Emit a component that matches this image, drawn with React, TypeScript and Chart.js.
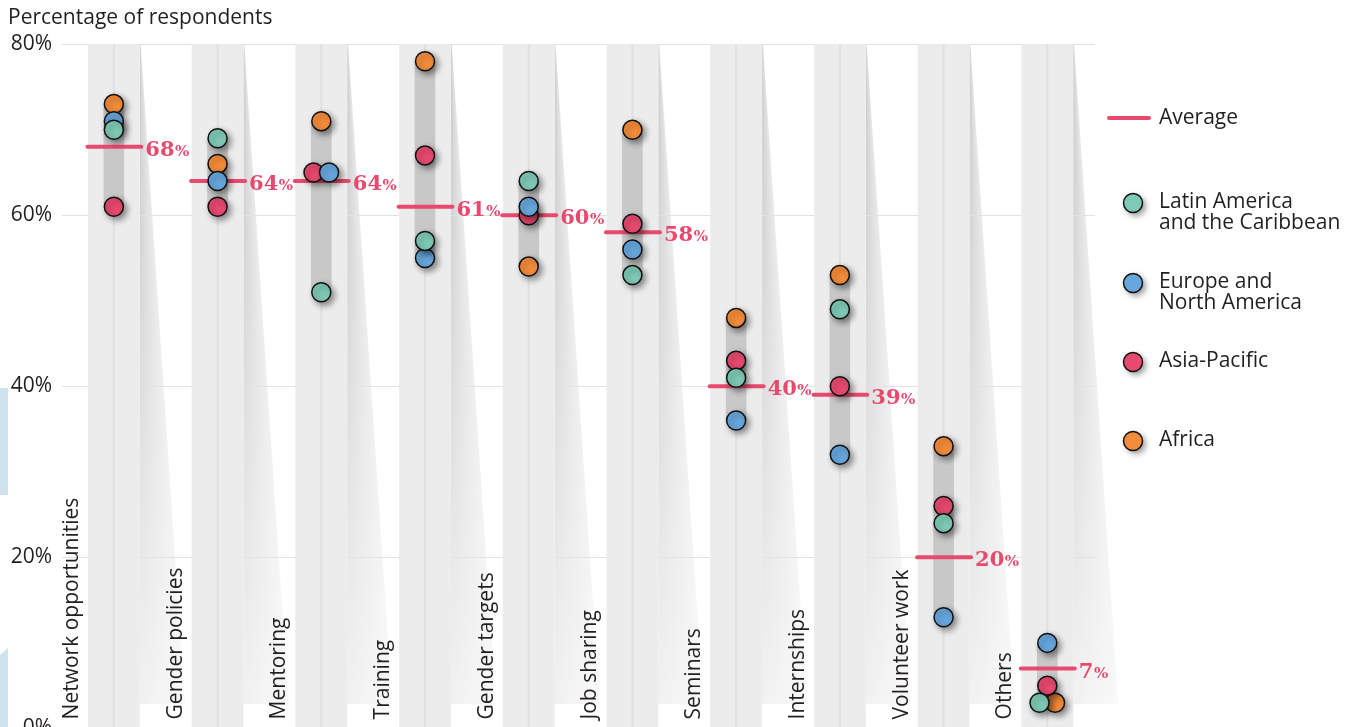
import React, { useEffect, useRef } from "react";
import { Chart, registerables } from "chart.js";

Chart.register(...registerables);

// ---------- DATA ----------
const categories = [
  "Network opportunities",
  "Gender policies",
  "Mentoring",
  "Training",
  "Gender targets",
  "Job sharing",
  "Seminars",
  "Internships",
  "Volunteer work",
  "Others",
];
const latinAmerica = [70, 69, 51, 57, 64, 53, 41, 49, 24, 3];
const europeNorthAmerica = [71, 64, 65, 55, 61, 56, 36, 32, 13, 10];
const asiaPacific = [61, 61, 65, 67, 60, 59, 43, 40, 26, 5];
const africa = [73, 66, 71, 78, 54, 70, 48, 53, 33, 3];
const average = [68, 64, 64, 61, 60, 58, 40, 39, 20, 7];
const yTicks = [0, 20, 40, 60, 80];
const yTitle = "Percentage of respondents";
const averageLabel = "Average";

// ---------- STYLE ----------
const FONT = "'Open Sans', 'Noto Sans', sans-serif";
const SLAB = "'DejaVu Serif', serif";
const TEXT = "#231f20";
const PINK = "#e84a6f";
const FS = 21;

const series = [
  { key: "latin", label: ["Latin America", "and the Caribbean"], data: latinAmerica, color: "#7ecab6", dodge: 2 },
  { key: "europe", label: ["Europe and", "North America"], data: europeNorthAmerica, color: "#67a7dd", dodge: 1 },
  { key: "asia", label: ["Asia-Pacific"], data: asiaPacific, color: "#e84a6f", dodge: 0 },
  { key: "africa", label: ["Africa"], data: africa, color: "#f58c3a", dodge: 3 },
];

const DODGE = 0.075;

function offsetFor(si: number, i: number): number {
  const v = series[si].data[i];
  const same = series
    .map((s, k) => ({ k, v: s.data[i], d: s.dodge }))
    .filter((o) => o.v === v)
    .sort((a, b) => a.d - b.d);
  if (same.length < 2) return 0;
  const pos = same.findIndex((o) => o.k === si);
  return (pos - (same.length - 1) / 2) * 2 * DODGE;
}

const rangeData = categories.map((_, i) => {
  const vals = series.map((s) => s.data[i]);
  return { x: i, y: [Math.min(...vals), Math.max(...vals)] };
});

const RANGE_INDEX = series.length;

function setShadow(ctx: CanvasRenderingContext2D) {
  ctx.shadowColor = "rgba(0,0,0,0.45)";
  ctx.shadowBlur = 6;
  ctx.shadowOffsetX = 3;
  ctx.shadowOffsetY = 3;
}

const decorPlugin = {
  id: "decor",
  beforeDraw(chart: any) {
    const { ctx, chartArea: area, scales } = chart;
    const x = scales.x;
    ctx.save();
    ctx.fillStyle = "#ffffff";
    ctx.fillRect(0, 0, chart.width, chart.height);
    // left edge decorations
    ctx.fillStyle = "#cfe3ee";
    ctx.fillRect(0, 388, 8, 107);
    ctx.beginPath();
    ctx.moveTo(0, 655);
    ctx.lineTo(8, 648);
    ctx.lineTo(8, chart.height);
    ctx.lineTo(0, chart.height);
    ctx.closePath();
    ctx.fill();
    // shadow wedges
    const top = area.top;
    const cut = area.bottom - 26;
    categories.forEach((_, i) => {
      const r = x.getPixelForValue(i + 0.25);
      for (let y = top; y < cut; y += 2) {
        const t = (y - top) / (cut - top);
        const w = 1 + t * 44;
        const a = 0.22 - 0.165 * t;
        const g = ctx.createLinearGradient(r, 0, r + w, 0);
        g.addColorStop(0, `rgba(0,0,0,${a})`);
        g.addColorStop(1, `rgba(0,0,0,${a * 0.45})`);
        ctx.fillStyle = g;
        ctx.fillRect(r, y, w, 2);
      }
    });
    ctx.restore();
  },
  beforeDatasetsDraw(chart: any) {
    const { ctx, chartArea: area, scales } = chart;
    const x = scales.x;
    ctx.save();
    categories.forEach((_, i) => {
      const l = x.getPixelForValue(i - 0.25);
      const r = x.getPixelForValue(i + 0.25);
      ctx.fillStyle = "#ececec";
      ctx.fillRect(l, area.top, r - l, chart.height - area.top);
      const c = x.getPixelForValue(i);
      ctx.fillStyle = "#e0e0e0";
      ctx.fillRect(c - 1, area.top, 2, chart.height - area.top);
    });
    ctx.strokeStyle = "#b8b8b8";
    ctx.lineWidth = 1.5;
    ctx.beginPath();
    ctx.moveTo(area.left, area.bottom - 0.5);
    ctx.lineTo(area.right, area.bottom - 0.5);
    ctx.stroke();
    ctx.restore();
  },
  beforeDatasetDraw(chart: any, args: any) {
    if (args.index < RANGE_INDEX) {
      chart.ctx.save();
      setShadow(chart.ctx);
    }
  },
  afterDatasetDraw(chart: any, args: any) {
    const { ctx, scales } = chart;
    if (args.index < RANGE_INDEX) {
      ctx.restore();
      return;
    }
    // average lines above range bars, below dots
    const x = scales.x;
    const y = scales.y;
    ctx.save();
    ctx.strokeStyle = PINK;
    ctx.lineWidth = 4;
    ctx.lineCap = "round";
    average.forEach((v, i) => {
      const yy = y.getPixelForValue(v);
      ctx.beginPath();
      ctx.moveTo(x.getPixelForValue(i - 0.255), yy);
      ctx.lineTo(x.getPixelForValue(i + 0.265), yy);
      ctx.stroke();
    });
    ctx.restore();
  },
  afterDatasetsDraw(chart: any) {
    const { ctx, chartArea: area, scales } = chart;
    const x = scales.x;
    const y = scales.y;
    ctx.save();
    // average labels
    ctx.fillStyle = PINK;
    ctx.textBaseline = "alphabetic";
    ctx.textAlign = "left";
    average.forEach((v, i) => {
      const x0 = x.getPixelForValue(i + 0.265) + 4;
      const yb = y.getPixelForValue(v) + 9;
      ctx.font = `bold 21px ${SLAB}`;
      const num = String(v);
      ctx.fillText(num, x0, yb);
      const w = ctx.measureText(num).width;
      ctx.font = `bold 15px ${SLAB}`;
      ctx.fillText("%", x0 + w + 0.5, yb);
    });
    // category labels (rotated)
    ctx.fillStyle = TEXT;
    ctx.font = `${FS}px ${FONT}`;
    categories.forEach((name, i) => {
      const cx = x.getPixelForValue(i) - 42;
      ctx.save();
      ctx.translate(cx, area.bottom - 9);
      ctx.rotate(-Math.PI / 2);
      ctx.textAlign = "left";
      ctx.textBaseline = "middle";
      ctx.fillText(name, 0, 0);
      ctx.restore();
    });
    // legend
    const lx = area.right;
    ctx.strokeStyle = PINK;
    ctx.lineWidth = 4;
    ctx.lineCap = "round";
    ctx.beginPath();
    ctx.moveTo(lx + 14, 118);
    ctx.lineTo(lx + 54, 118);
    ctx.stroke();
    ctx.fillStyle = TEXT;
    ctx.font = `${FS}px ${FONT}`;
    ctx.textAlign = "left";
    ctx.textBaseline = "middle";
    ctx.fillText(averageLabel, lx + 64, 118);
    const legendY = [202, 282, 361, 440];
    series.forEach((s, k) => {
      const cy = legendY[k];
      ctx.save();
      setShadow(ctx);
      ctx.beginPath();
      ctx.arc(lx + 38, cy + 1, 9.5, 0, Math.PI * 2);
      ctx.fillStyle = s.color;
      ctx.fill();
      ctx.restore();
      ctx.beginPath();
      ctx.arc(lx + 38, cy + 1, 9.5, 0, Math.PI * 2);
      ctx.strokeStyle = "#111";
      ctx.lineWidth = 1.5;
      ctx.stroke();
      ctx.fillStyle = TEXT;
      s.label.forEach((line, j) => {
        ctx.fillText(line, lx + 64, cy + j * 21);
      });
    });
    ctx.restore();
  },
};

export default function App() {
  const ref = useRef<HTMLCanvasElement>(null);
  useEffect(() => {
    const canvas = ref.current!;
    const datasets: any[] = series.map((s, si) => ({
      type: "scatter",
      label: s.label.join(" "),
      data: s.data.map((v, i) => ({ x: i + offsetFor(si, i), y: v })),
      backgroundColor: s.color,
      borderColor: "#111",
      borderWidth: 1.5,
      pointRadius: 9.5,
      order: si,
      clip: false,
    }));
    datasets.push({
      type: "bar",
      label: "range",
      data: rangeData,
      backgroundColor: "#c8c8c8",
      borderWidth: 0,
      barThickness: 20,
      order: 10,
      clip: false,
    });
    const chart = new Chart(canvas, {
      type: "scatter",
      data: { datasets },
      plugins: [decorPlugin],
      options: {
        animation: false,
        responsive: false,
        devicePixelRatio: 1,
        events: [],
        layout: { padding: { left: 8, right: 260, top: 0, bottom: 0 } },
        plugins: {
          legend: { display: false },
          tooltip: { enabled: false },
          title: {
            display: true,
            text: yTitle,
            align: "start",
            color: TEXT,
            font: { family: FONT, size: FS, weight: "normal" },
            padding: { top: 5, bottom: 14 },
          },
        },
        scales: {
          x: {
            type: "linear",
            min: -0.5,
            max: 9.46,
            offset: false,
            grid: { offset: false },
            display: false,
          },
          y: {
            type: "linear",
            min: 0,
            max: 80,
            afterBuildTicks: (s: any) => {
              s.ticks = yTicks.map((v) => ({ value: v }));
            },
            afterFit: (s: any) => {
              s.width = 54;
            },
            border: { display: false },
            grid: {
              color: (c: any) => (c.tick && c.tick.value === 0 ? "rgba(0,0,0,0)" : "#e2e2e2"),
              drawTicks: false,
              lineWidth: 1,
            },
            ticks: {
              padding: 10,
              color: TEXT,
              font: { family: FONT, size: FS },
              callback: (v: any) => v + "%",
            },
          },
        },
      } as any,
    });
    return () => chart.destroy();
  }, []);
  return (
    <div
      style={{
        position: "fixed",
        left: 0,
        top: 0,
        width: 1355,
        height: 727,
        overflow: "hidden",
        background: "#fff",
      }}
    >
      <canvas ref={ref} width={1355} height={751} style={{ display: "block", width: 1355, height: 751 }} />
    </div>
  );
}
